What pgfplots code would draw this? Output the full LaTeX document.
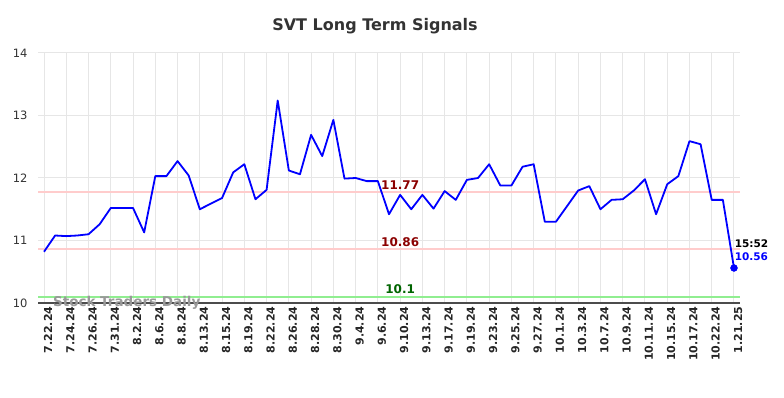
\documentclass[border=0pt]{standalone}
\usepackage{pgfplots}
\pgfplotsset{compat=1.18}
\usepackage{fontspec}
\setmainfont{DejaVu Sans}
\definecolor{gridc}{HTML}{E6E6E6}
\definecolor{pinkl}{HTML}{FFCCCC}
\definecolor{greenl}{HTML}{90EE90}
\definecolor{dred}{HTML}{8B0000}
\definecolor{dgreen}{HTML}{006400}
\definecolor{titlec}{HTML}{333333}
\begin{document}
\begin{tikzpicture}
\begin{axis}[
  at={(38pt,95pt)}, anchor=south west,
  scale only axis, width=702pt, height=250pt,
  xmin=-0.54, xmax=62.54, ymin=10, ymax=14,
  xtick={0,2,...,62},
  xticklabels={7.22.24,7.24.24,7.26.24,7.31.24,8.2.24,8.6.24,8.8.24,8.13.24,8.15.24,8.19.24,8.22.24,8.26.24,8.28.24,8.30.24,9.4.24,9.6.24,9.10.24,9.13.24,9.17.24,9.19.24,9.23.24,9.25.24,9.27.24,10.1.24,10.3.24,10.7.24,10.9.24,10.11.24,10.15.24,10.17.24,10.22.24,1.21.25},
  ytick={10,11,12,13,14},
  grid=major,
  major grid style={draw=gridc, line width=1pt},
  axis line style={draw=none},
  tick style={draw=none},
  xticklabel style={rotate=90, anchor=east, font=\bfseries\fontsize{11}{13}\selectfont, text=black!85, yshift=-4pt},
  yticklabel style={font=\fontsize{11.5}{13}\selectfont, text=black!80, xshift=-7pt},
  /pgf/number format/assume math mode=true,
  clip=false,
]
\addplot[pinkl, line width=2pt, forget plot] coordinates {(-0.54,11.77) (62.54,11.77)};
\addplot[pinkl, line width=2pt, forget plot] coordinates {(-0.54,10.86) (62.54,10.86)};
\addplot[greenl, line width=2pt, forget plot] coordinates {(-0.54,10.1) (62.54,10.1)};
\draw[black!70, line width=1.2pt] (axis cs:-0.54,10) -- (axis cs:62.54,10);
\addplot[blue, line width=1.8pt, mark=none, line join=round] coordinates {
(0,10.82) (1,11.08) (2,11.07) (3,11.08) (4,11.10) (5,11.26) (6,11.52) (7,11.52) (8,11.52) (9,11.13)
(10,12.03) (11,12.03) (12,12.27) (13,12.04) (14,11.50) (15,11.59) (16,11.68) (17,12.09) (18,12.22) (19,11.66)
(20,11.81) (21,13.24) (22,12.12) (23,12.06) (24,12.69) (25,12.35) (26,12.93) (27,11.99) (28,12.00) (29,11.95)
(30,11.95) (31,11.42) (32,11.73) (33,11.50) (34,11.73) (35,11.51) (36,11.79) (37,11.65) (38,11.97) (39,12.00)
(40,12.22) (41,11.88) (42,11.88) (43,12.18) (44,12.22) (45,11.30) (46,11.30) (47,11.55) (48,11.80) (49,11.87)
(50,11.50) (51,11.65) (52,11.66) (53,11.80) (54,11.98) (55,11.42) (56,11.90) (57,12.03) (58,12.59) (59,12.54)
(60,11.65) (61,11.65) (62,10.56)
};
\addplot[blue, only marks, mark=*, mark size=3.5pt] coordinates {(62,10.56)};
\node[font=\bfseries\fontsize{12}{14}\selectfont, text=dred] at (axis cs:32,11.885) {11.77};
\node[font=\bfseries\fontsize{12}{14}\selectfont, text=dred] at (axis cs:32,10.975) {10.86};
\node[font=\bfseries\fontsize{12}{14}\selectfont, text=dgreen] at (axis cs:32,10.22) {10.1};
\node[font=\bfseries\fontsize{10.5}{12}\selectfont, anchor=west, inner sep=0pt] at (axis cs:62.05,10.95) {15:52};
\node[font=\bfseries\fontsize{10.5}{12}\selectfont, anchor=west, text=blue, inner sep=0pt] at (axis cs:62.05,10.74) {10.56};
\node[font=\bfseries\fontsize{13.5}{15}\selectfont, text=black!40, anchor=west, inner sep=0pt] at (axis cs:0.8,10.01) {Stock Traders Daily};
\end{axis}
\node[font=\bfseries\fontsize{16}{19}\selectfont, text=titlec] at (375pt,372pt) {SVT Long Term Signals};
\pgfresetboundingbox
\path[use as bounding box] (0pt,0pt) rectangle (784pt,398pt);
\end{tikzpicture}
\end{document}
